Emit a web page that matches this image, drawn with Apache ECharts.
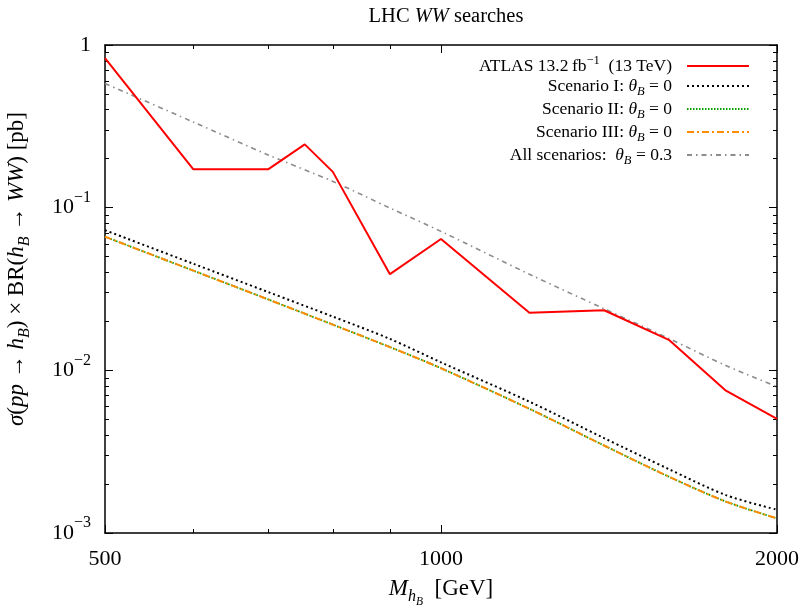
<!DOCTYPE html>
<html><head><meta charset="utf-8">
<script src="https://cdn.jsdelivr.net/npm/echarts@6/dist/echarts.min.js"></script>
<style>html,body{margin:0;padding:0;background:#fff}#c{width:809px;height:609px}</style>
</head><body><div id="c"></div>
<script>
// ---- data ----
const atlasMass = [500, 600, 700, 755, 800, 900, 1000, 1200, 1400, 1600, 1800, 2000];
const atlasXS   = [0.83, 0.172, 0.172, 0.245, 0.166, 0.039, 0.0642, 0.0226, 0.0234, 0.0154, 0.0075, 0.00503];
const theoryMass = [500, 600, 700, 800, 900, 1000, 1200, 1400, 1600, 1800, 2000];
const scenI   = [0.0727, 0.0452, 0.0303, 0.0214, 0.0156, 0.0112, 0.00642, 0.00383, 0.00247, 0.00171, 0.00139];
const scenII  = [0.0663, 0.0410, 0.0273, 0.0191, 0.0139, 0.0103, 0.00580, 0.00345, 0.00222, 0.00156, 0.00123];
const scenIII = [0.0663, 0.0410, 0.0273, 0.0191, 0.0139, 0.0103, 0.00580, 0.00345, 0.00222, 0.00156, 0.00123];
const allScen = [0.58, 0.336, 0.211, 0.145, 0.0995, 0.0715, 0.0390, 0.0239, 0.0157, 0.0107, 0.00794];
const xMajorTicks = [500, 1000, 2000];
const xMinorTicks = [600, 700, 800, 900];
const yMajorTicks = [0.001, 0.01, 0.1, 1];
const yMinorTicks = [0.002,0.003,0.004,0.005,0.006,0.007,0.008,0.009,
                     0.02,0.03,0.04,0.05,0.06,0.07,0.08,0.09,
                     0.2,0.3,0.4,0.5,0.6,0.7,0.8,0.9];
const seriesNames = ['ATLAS', 'ScenI', 'ScenII', 'ScenIII', 'All'];

const FONT = 'Liberation Serif';
const pairs = (xs, ys) => xs.map((x, i) => [x, ys[i]]);
const LF = 17.5;
const rich = {
  n: {fontFamily: FONT, fontSize: LF, color: '#000', lineHeight: 20},
  i: {fontFamily: FONT, fontSize: LF, fontStyle: 'italic', color: '#000', lineHeight: 20},
  s: {fontFamily: FONT, fontSize: 12.5, fontStyle: 'italic', color: '#000', verticalAlign: 'bottom', lineHeight: 12, padding: [0,0,-2,0]},
  sup: {fontFamily: FONT, fontSize: 12.5, color: '#000', verticalAlign: 'top', lineHeight: 12, padding: [-2,0,0,0]}
};
const legendText = {
  ATLAS: '{n|ATLAS 13.2\u2009fb}{sup|\u22121}{n|  (13 TeV)}',
  ScenI: '{n|Scenario I: }{i|θ}{s|B}{n| = 0}',
  ScenII: '{n|Scenario II: }{i|θ}{s|B}{n| = 0}',
  ScenIII: '{n|Scenario III: }{i|θ}{s|B}{n| = 0}',
  All: '{n|All scenarios:  }{i|θ}{s|B}{n| = 0.3}'
};

const chart = echarts.init(document.getElementById('c'), null, {renderer: 'canvas'});
const frame = {show: true, onZero: false, lineStyle: {color: '#000', width: 1.5}};
const tickStyle = {color: '#000', width: 1};

const xBase = {type: 'log', logBase: 10, min: 500, max: 2000, gridIndex: 0, splitLine: {show: false}, minorTick: {show: false}};
const yBase = {type: 'log', logBase: 10, min: 0.001, max: 1, gridIndex: 0, splitLine: {show: false}, minorTick: {show: false}};

const yLabelRich = {
  b: {fontFamily: FONT, fontSize: 22, color: '#000'},
  e: {fontFamily: FONT, fontSize: 16, color: '#000', verticalAlign: 'top', lineHeight: 14, padding: [-7,0,0,0]}
};
function yFmt(v) {
  const n = Math.round(Math.log10(v));
  if (n === 0) return '{b|1}';
  return '{b|10}{e|\u2212' + (-n) + '}';
}
const TF = 23;
const titleRich = {
  n: {fontFamily: FONT, fontSize: TF, color: '#000', lineHeight: 28},
  i: {fontFamily: FONT, fontSize: TF, fontStyle: 'italic', color: '#000', lineHeight: 28},
  s: {fontFamily: FONT, fontSize: 16, fontStyle: 'italic', color: '#000', verticalAlign: 'bottom', lineHeight: 16, padding: [0,0,-2,0]},
  ss: {fontFamily: FONT, fontSize: 11.5, fontStyle: 'italic', color: '#000', verticalAlign: 'bottom', lineHeight: 11, padding: [0,0,-5,0]}
};

const option = {
  animation: false,
  backgroundColor: '#fff',
  title: {
    text: '{n|LHC }{i|WW}{n| searches}',
    left: 441, top: 1, textAlign: 'center',
    textStyle: {fontWeight: 'normal', rich: {
      n: {fontFamily: FONT, fontSize: 20.5, fontWeight: 'normal', color: '#000'},
      i: {fontFamily: FONT, fontSize: 20.5, fontWeight: 'normal', fontStyle: 'italic', color: '#000'}}}
  },
  legend: seriesNames.map((nm, k) => ({
    data: [nm], right: 59, top: 54 + k * 23, orient: 'horizontal', align: 'right', padding: 0,
    itemWidth: 62, itemHeight: 12, selectedMode: false,
    itemStyle: {opacity: 0, borderWidth: 0},
    formatter: (name) => legendText[name],
    textStyle: {rich: rich, padding: [0, 10, 0, 0]}
  })),
  grid: {left: 105, right: 32, top: 45, bottom: 76, containLabel: false, outerBoundsMode: 'none'},
  xAxis: [
    Object.assign({}, xBase, {position: 'bottom', axisLine: frame,
      axisTick: {show: true, inside: true, length: 8, lineStyle: tickStyle, customValues: xMajorTicks},
      axisLabel: {show: true, margin: 15, customValues: xMajorTicks, fontFamily: FONT, fontSize: 22, color: '#000', formatter: v => String(Math.round(v))},
      name: '{i|M}{s|h}{ss|B}{n|  [GeV]}', nameLocation: 'middle', nameGap: 42,
      nameTextStyle: {rich: titleRich}}),
    Object.assign({}, xBase, {position: 'top', axisLine: frame,
      axisTick: {show: true, inside: true, length: 8, lineStyle: tickStyle, customValues: xMajorTicks},
      axisLabel: {show: false}}),
    Object.assign({}, xBase, {position: 'bottom', axisLine: {show: false},
      axisTick: {show: true, inside: true, length: 4, lineStyle: tickStyle, customValues: xMinorTicks},
      axisLabel: {show: false}}),
    Object.assign({}, xBase, {position: 'top', axisLine: {show: false},
      axisTick: {show: true, inside: true, length: 4, lineStyle: tickStyle, customValues: xMinorTicks},
      axisLabel: {show: false}})
  ],
  yAxis: [
    Object.assign({}, yBase, {position: 'left', axisLine: frame,
      axisTick: {show: true, inside: true, length: 8, lineStyle: tickStyle, customValues: yMajorTicks},
      axisLabel: {show: true, margin: 14, customValues: yMajorTicks, formatter: yFmt, rich: yLabelRich},
      name: '{i|σ}{n|(}{i|pp}{n| → }{i|h}{s|B}{n|) × BR(}{i|h}{s|B}{n| → }{i|WW}{n|) [pb]}',
      nameLocation: 'middle', nameGap: 74, nameRotate: 90,
      nameTextStyle: {rich: titleRich, padding: [0, 0, 0, 40]}}),
    Object.assign({}, yBase, {position: 'right', axisLine: frame,
      axisTick: {show: true, inside: true, length: 8, lineStyle: tickStyle, customValues: yMajorTicks},
      axisLabel: {show: false}}),
    Object.assign({}, yBase, {position: 'left', axisLine: {show: false},
      axisTick: {show: true, inside: true, length: 4, lineStyle: tickStyle, customValues: yMinorTicks},
      axisLabel: {show: false}}),
    Object.assign({}, yBase, {position: 'right', axisLine: {show: false},
      axisTick: {show: true, inside: true, length: 4, lineStyle: tickStyle, customValues: yMinorTicks},
      axisLabel: {show: false}})
  ],
  series: [
    {name: 'ScenII', type: 'line', data: pairs(theoryMass, scenII), smooth: 0.3, symbol: 'none',
     lineStyle: {color: '#00a000', width: 1.8, type: [1.5, 1.5]}, itemStyle: {color: '#00a000'}, z: 3},
    {name: 'ScenIII', type: 'line', data: pairs(theoryMass, scenIII), smooth: 0.3, symbol: 'none',
     lineStyle: {color: '#ff8c00', width: 2, type: [7, 3, 2, 3]}, itemStyle: {color: '#ff8c00'}, z: 4},
    {name: 'ScenI', type: 'line', data: pairs(theoryMass, scenI), smooth: 0.3, symbol: 'none',
     lineStyle: {color: '#000', width: 2, type: [2, 3]}, itemStyle: {color: '#000'}, z: 5},
    {name: 'All', type: 'line', data: pairs(theoryMass, allScen), smooth: 0.3, symbol: 'none',
     lineStyle: {color: '#8c8c8c', width: 1.6, type: [5, 4, 1.5, 4]}, itemStyle: {color: '#8c8c8c'}, z: 5},
    {name: 'ATLAS', type: 'line', data: pairs(atlasMass, atlasXS), symbol: 'none',
     lineStyle: {color: '#ff0000', width: 2}, itemStyle: {color: '#ff0000'}, z: 6}
  ]
};
chart.setOption(option);
</script></body></html>
